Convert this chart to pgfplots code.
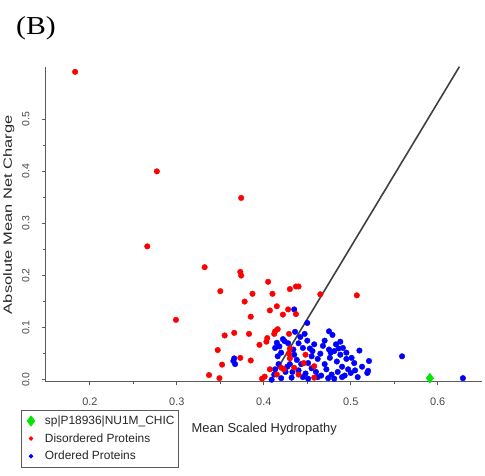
\documentclass[border=0pt]{standalone}
\usepackage{pgfplots}
\pgfplotsset{compat=1.18}
\usepackage{fontspec}
\setmainfont{Liberation Sans}
\newfontfamily\seriffont{Liberation Serif}
\definecolor{axgray}{RGB}{90,90,90}
\definecolor{pred}{RGB}{255,0,0}
\definecolor{pblue}{RGB}{0,0,255}
\definecolor{pgreen}{RGB}{0,230,0}
\begin{document}
\begin{tikzpicture}
\begin{axis}[
  scale only axis, width=439pt, height=317pt,
  xmin=0.149, xmax=0.651, ymin=-0.004, ymax=0.601,
  clip=false,
  axis x line*=bottom, axis y line*=left,
  axis line style={axgray, line width=1.2pt},
  tick style={axgray, line width=0.8pt},
  tick align=outside,
  major tick length=3.5pt, minor tick length=2.5pt,
  minor tick num=1,
  xtick={0.2,0.3,0.4,0.5,0.6},
  ytick={0,0.1,0.2,0.3,0.4,0.5},
  /pgf/number format/assume math mode=true,
  /pgf/number format/.cd, fixed, fixed zerofill, precision=1, /pgfplots/.cd,
  xticklabel style={font=\fontsize{11}{12}\selectfont, text=axgray!80!black, yshift=-9pt},
  yticklabel style={font=\fontsize{10.5}{11}\selectfont, text=axgray!80!black, rotate=90, anchor=south, yshift=9pt},
  xlabel={Mean Scaled Hydropathy},
  xlabel style={at={(axis description cs:0.501,-0.15)}, anchor=center, font=\fontsize{13}{14}\selectfont, text=black!85},
  ylabel={\scalebox{1.38}[1]{Absolute Mean Net Charge}},
  ylabel style={at={(axis description cs:-0.084,0.53)}, anchor=center, font=\fontsize{12}{13}\selectfont, text=black!85},
  legend style={at={(axis description cs:-0.057,-0.088)}, anchor=north west,
    draw=axgray, line width=0.8pt, font=\fontsize{12}{13}\selectfont, text=black!85,
    inner xsep=3pt, inner ysep=5pt, row sep=5.5pt,
    nodes={inner sep=1pt}},
  legend image code/.code={\path[draw=none,fill=none] (0pt,0pt) -- (20pt,0pt); \draw[#1, only marks] plot coordinates {(7pt,0pt)};},
  legend cell align=left,
]
\addplot[only marks, mark=diamond*, mark size=5pt, color=pgreen, mark options={draw=pgreen, fill=pgreen}] coordinates {(0.591,0.003)};
\addlegendentry{sp|P18936|NU1M\_CHIC}
\addlegendimage{only marks, mark=*, mark size=1.8pt, color=pred, mark options={draw=pred, fill=pred}}
\addlegendentry{Disordered Proteins}
\addlegendimage{only marks, mark=*, mark size=1.8pt, color=pblue, mark options={draw=pblue, fill=pblue}}
\addlegendentry{Ordered Proteins}
% boundary line
\addplot[black!75, line width=1.6pt, forget plot] coordinates {(0.408,0.0) (0.625,0.601)};
% ordered proteins
\addplot[only marks, mark=*, mark size=2.8pt, color=pblue, mark options={draw=pblue, fill=pblue}, forget plot] coordinates {
(0.365,0.036) (0.366,0.041) (0.367,0.030)
(0.435,0.135) (0.450,0.109) (0.475,0.093) (0.479,0.086)
(0.488,0.073) (0.491,0.061) (0.510,0.056) (0.559,0.045) (0.629,0.003)
(0.521,0.036) (0.520,0.017) (0.501,0.042) (0.504,0.032)
(0.475,0.058) (0.477,0.052) (0.481,0.055)
(0.456,0.055) (0.455,0.045) (0.451,0.032)
(0.445,0.061) (0.435,0.048) (0.424,0.074)
(0.415,0.071) (0.413,0.061) (0.418,0.064) (0.420,0.052) (0.416,0.045)
(0.422,0.078) (0.428,0.070)
(0.409,0.000) (0.412,0.010) (0.432,0.004) (0.451,0.002) (0.466,0.008)
(0.481,0.002) (0.493,0.008) (0.500,0.013) (0.519,0.013) (0.425,0.015)
(0.440,0.018) (0.448,0.012) (0.460,0.015) (0.472,0.020) (0.485,0.015)
(0.490,0.025) (0.470,0.030) (0.462,0.040) (0.443,0.030) (0.430,0.030)
(0.438,0.038) (0.484,0.035) (0.495,0.040) (0.497,0.020) (0.508,0.005)
(0.478,0.010) (0.455,0.022) (0.445,0.005) (0.420,0.003) (0.427,0.025)
(0.465,0.050) (0.468,0.065) (0.458,0.068) (0.450,0.075) (0.440,0.070)
(0.434,0.058) (0.488,0.048) (0.495,0.052) (0.513,0.025) (0.505,0.018)
(0.476,0.042) (0.462,0.005) (0.453,0.060) (0.447,0.088) (0.442,0.082)
(0.436,0.092) (0.470,0.075) (0.483,0.068) (0.433,0.015) (0.417,0.030)
(0.413,0.020) (0.490,0.005) (0.474,0.003) (0.486,0.060)
};
% disordered proteins
\addplot[only marks, mark=*, mark size=2.8pt, color=pred, mark options={draw=pred, fill=pred}, forget plot] coordinates {
(0.183,0.591) (0.277,0.400) (0.374,0.349) (0.266,0.256) (0.332,0.216)
(0.373,0.207) (0.374,0.200) (0.405,0.188) (0.350,0.170) (0.387,0.165)
(0.410,0.165) (0.430,0.174) (0.437,0.179) (0.440,0.179) (0.465,0.164)
(0.507,0.162) (0.378,0.150) (0.415,0.141) (0.407,0.133) (0.428,0.135)
(0.385,0.121) (0.422,0.125) (0.437,0.126) (0.299,0.115) (0.416,0.097)
(0.413,0.093) (0.366,0.090) (0.355,0.085) (0.383,0.088) (0.412,0.088)
(0.429,0.088) (0.404,0.080) (0.403,0.073) (0.395,0.067) (0.347,0.057)
(0.373,0.042) (0.385,0.037) (0.352,0.029) (0.337,0.009) (0.349,0.003)
(0.401,0.006) (0.407,0.020) (0.420,0.023) (0.430,0.060) (0.429,0.050)
(0.448,0.048) (0.446,0.032) (0.458,0.026) (0.435,0.023) (0.423,0.020)
(0.458,0.004) (0.415,0.010) (0.440,0.010) (0.398,0.002) (0.430,0.041)
};
% title
\node[font=\seriffont\fontsize{26}{26}\selectfont, anchor=center] at (axis description cs:-0.022,1.123) {\scalebox{1.15}[1]{(B)}};
% bounding box of the whole picture
\path (axis description cs:-0.098,-0.2965) rectangle (axis description cs:1.0068,1.2114);
\end{axis}
\end{tikzpicture}
\end{document}
